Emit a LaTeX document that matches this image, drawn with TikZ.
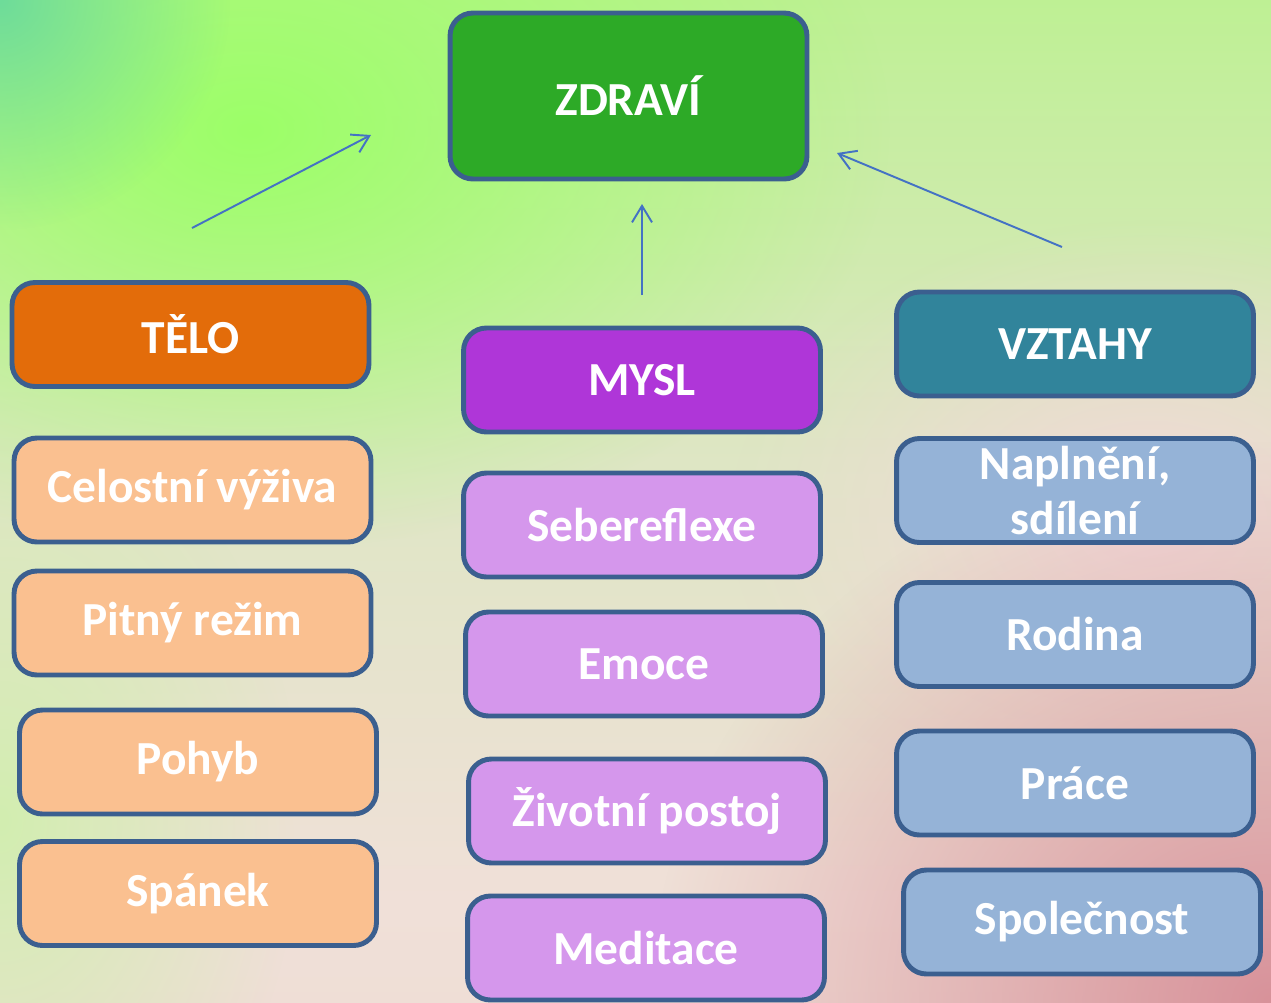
\documentclass[tikz,border=0pt]{standalone}
\usepackage{fontspec}
\setmainfont{Carlito}
\usetikzlibrary{arrows.meta, fadings}
\definecolor{cedge}{HTML}{3B5F8F}
\definecolor{cgreen}{HTML}{2DAA27}
\definecolor{corange}{HTML}{E36C0A}
\definecolor{cpeach}{HTML}{FAC090}
\definecolor{cpurple}{HTML}{AF36D8}
\definecolor{clilac}{HTML}{D597EC}
\definecolor{cteal}{HTML}{31849B}
\definecolor{clblue}{HTML}{95B3D7}
\definecolor{carrow}{HTML}{4472C4}
\definecolor{bgred}{HTML}{D8929A}
\definecolor{bgpink}{HTML}{F2D8D8}
\definecolor{bgleft}{HTML}{D2EEB0}
\definecolor{bgtop}{HTML}{9CFF68}
\definecolor{bgteal}{HTML}{6EDC9A}
\pgfdeclareverticalshading{bgfade}{100bp}{
  color(0bp)=(rgb,255:red,232;green,214;blue,204);
  color(30bp)=(rgb,255:red,240;green,224;blue,216);
  color(52bp)=(rgb,255:red,222;green,230;blue,196);
  color(75bp)=(rgb,255:red,190;green,240;blue,148);
  color(100bp)=(rgb,255:red,168;green,246;blue,124)}
\tikzfading[name=softfade, inner color=transparent!0, outer color=transparent!100]
\tikzset{
  every picture/.style={font=\bfseries\fontsize{27}{31}\selectfont},
  box/.style={draw=cedge, fill=#1, line width=2.8pt, rounded corners=13pt, text=white,
    align=center, minimum width=7.14cm, minimum height=2.08cm, inner sep=2pt},
  box/.default=cpeach,
  arrow/.style={-{Straight Barb[length=3.3mm, width=4mm]}, draw=carrow, line width=1.1pt},
}
\begin{document}
\begin{tikzpicture}[x=0.02cm, y=-0.02cm]
  % background
  \useasboundingbox (0,0) rectangle (1271,1002);
  \shade[shading=bgfade] (0,0) rectangle (1271,1002);
  \fill[bgpink, path fading=softfade] (1150,520) ellipse (420 and 300);
  \fill[bgleft, path fading=softfade] (0,820) ellipse (300 and 420);
  \fill[bgred, path fading=softfade] (1271,1002) ellipse (620 and 560);
  \fill[bgtop, path fading=softfade] (250,130) ellipse (640 and 420);
  \fill[bgteal, path fading=softfade] (0,0) ellipse (230 and 230);
  % top
  \node[box=cgreen, minimum height=3.32cm] (zdravi) at (628.5,96) {ZDRAVÍ};
  % headers
  \node[box=corange] (telo) at (190.5,334.5) {TĚLO};
  \node[box=cpurple] (mysl) at (642,380) {MYSL};
  \node[box=cteal] (vztahy) at (1075,344) {VZTAHY};
  % body
  \foreach \x/\y/\t [count=\i] in {192.5/490/Celostní výživa, 192.5/623/Pitný režim,
      198/762/Pohyb, 198/893.5/Spánek}
    \node[box=cpeach] (telo\i) at (\x,\y) {\t};
  % mind
  \foreach \x/\y/\t [count=\i] in {642/525/Sebereflexe, 644/664/Emoce,
      647/811/Životní postoj, 646/948/Meditace}
    \node[box=clilac] (mysl\i) at (\x,\y) {\t};
  % relations
  \node[box=clblue, font=\bfseries\fontsize{27}{31.5}\selectfont] (vztahy1) at (1075,490.5) {Naplnění,\\sdílení};
  \foreach \x/\y/\t [count=\i from 2] in {1075/634.5/Rodina, 1075/783/Práce, 1082/922/Společnost}
    \node[box=clblue] (vztahy\i) at (\x,\y) {\t};
  % arrows
  \coordinate (a1) at (192,228);  \coordinate (b1) at (371,135);
  \coordinate (a2) at (642,295);  \coordinate (b2) at (642,204);
  \coordinate (a3) at (1062,247); \coordinate (b3) at (837,153);
  \foreach \i in {1,2,3} \draw[arrow] (a\i) -- (b\i);
\end{tikzpicture}
\end{document}
